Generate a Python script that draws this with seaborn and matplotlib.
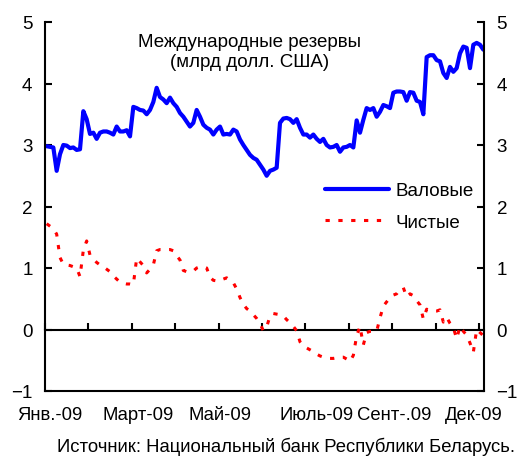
import matplotlib
matplotlib.use("Agg")
import matplotlib.pyplot as plt
import seaborn as sns
import pandas as pd
import numpy as np

# валовые резервы, млрд долл. США (наблюдения с янв. по дек. 2009)
gross = [2.98, 2.97, 2.96, 2.58, 2.85, 3.0, 2.99, 2.95, 2.96, 2.92, 2.93, 3.55,
         3.42, 3.18, 3.2, 3.1, 3.2, 3.22, 3.22, 3.2, 3.17, 3.3, 3.22, 3.22,
         3.24, 3.14, 3.62, 3.6, 3.57, 3.56, 3.5, 3.57, 3.7, 3.93, 3.78, 3.74,
         3.68, 3.77, 3.68, 3.62, 3.52, 3.46, 3.38, 3.3, 3.36, 3.57, 3.46, 3.33,
         3.28, 3.25, 3.17, 3.25, 3.3, 3.17, 3.18, 3.17, 3.25, 3.22, 3.09, 3.0,
         2.92, 2.84, 2.79, 2.76, 2.68, 2.6, 2.5, 2.58, 2.6, 2.63, 3.36, 3.43,
         3.44, 3.42, 3.36, 3.42, 3.28, 3.17, 3.17, 3.12, 3.17, 3.1, 3.05, 3.1,
         3.0, 2.96, 2.97, 3.0, 2.89, 2.96, 2.97, 3.0, 2.96, 3.4, 3.2, 3.41,
         3.6, 3.57, 3.6, 3.46, 3.54, 3.65, 3.63, 3.6, 3.85, 3.87, 3.87, 3.86,
         3.72, 3.86, 3.85, 3.72, 3.7, 3.5, 4.43, 4.46, 4.46, 4.38, 4.36, 4.17,
         4.09, 4.27, 4.19, 4.25, 4.49, 4.6, 4.58, 4.25, 4.63, 4.66, 4.63, 4.55]

# чистые резервы
net = [1.72, 1.68, 1.64, 1.55, 1.17, 1.06, 1.05, 1.04, 1.02, 1.0, 0.86, 1.29,
       1.44, 1.21, 1.15, 1.09, 1.05, 1.02, 0.98, 0.94, 0.87, 0.82, 0.77, 0.75,
       0.74, 0.74, 0.73, 1.16, 1.1, 1.04, 0.92, 0.98, 1.05, 1.28, 1.3, 1.3,
       1.3, 1.3, 1.28, 1.2, 1.13, 0.96, 0.94, 0.94, 0.95, 1.0, 1.02, 1.02,
       1.0, 0.85, 0.8, 0.79, 0.79, 0.82, 0.84, 0.8, 0.76, 0.66, 0.52, 0.41,
       0.34, 0.3, 0.24, 0.18, 0.1, -0.02, 0.04, 0.22, 0.26, 0.25, 0.24, 0.22,
       0.16, 0.11, 0.05, -0.02, -0.2, -0.27, -0.3, -0.33, -0.36, -0.4, -0.43, -0.45,
       -0.46, -0.47, -0.47, -0.46, -0.45, -0.45, -0.48, -0.52, -0.42, -0.1, 0.05, -0.25,
       -0.05, -0.03, -0.03, -0.03, 0.19, 0.38, 0.45, 0.52, 0.56, 0.58, 0.66, 0.68,
       0.53, 0.58, 0.55, 0.47, 0.4, 0.17, 0.33, 0.31, 0.3, 0.3, 0.32, 0.12,
       0.2, 0.1, 0.03, -0.15, 0.05, -0.03, -0.09, -0.22, -0.37, 0.0, -0.05, -0.1]

month_labels = ["Янв.-09", "Март-09", "Май-09", "Июль-09", "Сент-.09", "Дек-09"]

df = pd.DataFrame({"obs": np.arange(len(gross)), "Валовые": gross, "Чистые": net})

sns.set_theme(style="white")
plt.rcParams["font.family"] = ["Liberation Sans", "DejaVu Sans"]
plt.rcParams["text.color"] = "black"

fig = plt.figure(figsize=(5.17, 4.6), dpi=100)
ax = fig.add_axes([45 / 517, 1 - 392 / 460, 439 / 517, 369 / 460])

sns.lineplot(data=df, x="obs", y="Валовые", color="#0000ff", lw=3,
             ax=ax, label="Валовые")
sns.lineplot(data=df, x="obs", y="Чистые", color="#ff0000", lw=2.2,
             ls=(0, (1.4, 2.8)), ax=ax, label="Чистые")

ax.set_xlim(-0.5, 131.2)
ax.set_ylim(-1, 5)
ax.set_xlabel("")
ax.set_ylabel("")

# подписи месяцев под рамкой
label_pos = [0.85, 27.4, 52, 81.1, 104.2, 128.2]
ax.set_xticks(label_pos, month_labels)
ax.tick_params(axis="x", length=0, pad=11, labelsize=13.3, colors="black")

ax.set_yticks(range(-1, 6))
ax.tick_params(axis="y", direction="in", length=5, width=1.5, left=True,
               right=True, labelleft=True, labelright=True, labelsize=13.5,
               pad=9, colors="black")

for side in ["left", "right", "bottom"]:
    ax.spines[side].set_color("black")
    ax.spines[side].set_linewidth(1.5)
ax.spines["top"].set_visible(False)

# ось категорий на уровне нуля
zero = ax.secondary_xaxis(1 / 6)
zero.set_xticks(np.arange(-0.5, 131, 13.02))
zero.tick_params(direction="in", length=5, width=1.5, labelbottom=False,
                 colors="black")
zero.spines["bottom"].set_linewidth(1.5)
zero.spines["bottom"].set_color("black")

ax.text(0.465, 0.92, "Международные резервы\n(млрд долл. США)",
        transform=ax.transAxes, ha="center", va="center", fontsize=13.5,
        linespacing=1.3, color="black")

ax.legend(loc="center left", bbox_to_anchor=(0.638, 0.50), frameon=False,
          borderaxespad=0, borderpad=0, handlelength=3.4, handletextpad=0.35,
          labelspacing=0.75, fontsize=13.5, labelcolor="black")

fig.text(515 / 517, 1 - 447 / 460,
         "Источник: Национальный банк Республики Беларусь.",
         ha="right", va="center", fontsize=13.3, color="black")

fig.savefig("out.png", dpi=100)
plt.close(fig)
